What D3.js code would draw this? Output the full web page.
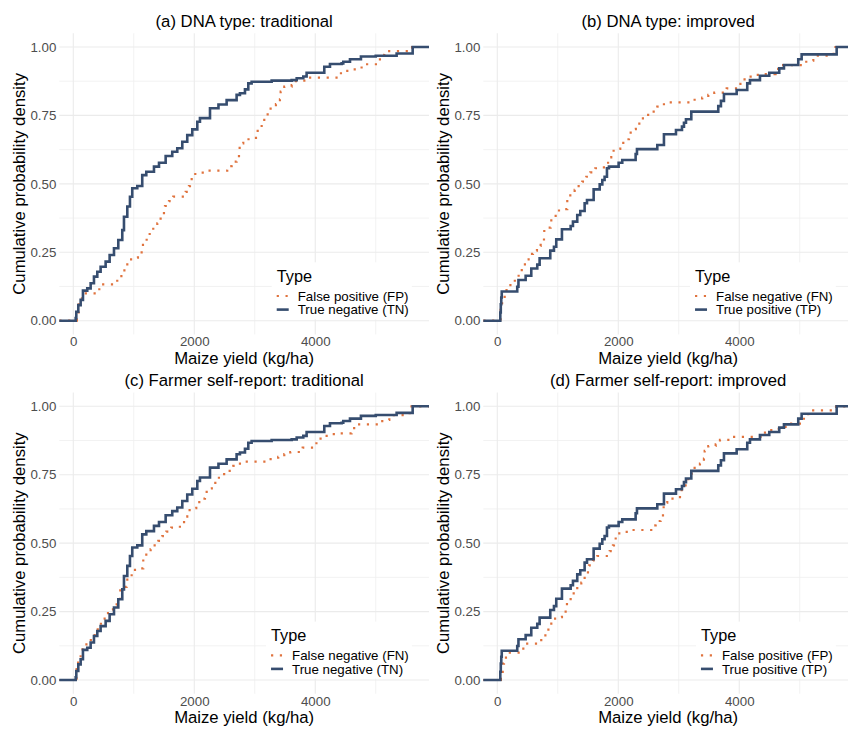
<!DOCTYPE html>
<html>
<head>
<meta charset="utf-8">
<script src="https://cdn.jsdelivr.net/npm/d3@7"></script>
<style>
  body { margin: 0; background: #fff; }
  svg text { font-family: "Liberation Sans", Arial, sans-serif; }
</style>
</head>
<body>
<svg width="848" height="729"></svg>
<script>
// step points of each ECDF (yield where the step happens, cumulative share after it)
var tnYield = [40, 50, 83, 122, 160, 231, 287, 342, 397, 452, 535, 601, 673, 744, 810, 838, 893, 937, 975, 1058,
  1140, 1207, 1334, 1417, 1527, 1636, 1719, 1802, 1884, 1967, 2050, 2094, 2260, 2400, 2535, 2700, 2755, 2838, 2893, 2948,
  3279, 3610, 3693, 3802, 3857, 4149, 4243, 4436, 4463, 4574, 4755, 5000, 5345, 5610];
var tnCum = [0.01, 0.033, 0.057, 0.076, 0.110, 0.118, 0.137, 0.161, 0.179, 0.197, 0.216, 0.240, 0.265, 0.295, 0.331, 0.380, 0.417, 0.453, 0.484, 0.492,
  0.532, 0.544, 0.563, 0.577, 0.602, 0.617, 0.630, 0.654, 0.678, 0.699, 0.727, 0.740, 0.776, 0.790, 0.806, 0.825, 0.831, 0.845, 0.867, 0.873,
  0.877, 0.879, 0.886, 0.892, 0.906, 0.928, 0.938, 0.940, 0.946, 0.955, 0.965, 0.968, 0.976, 1.0];

var tpYield = [50, 58, 66, 74, 330, 350, 469, 562, 661, 700, 876, 937, 975, 1069, 1213, 1251, 1322, 1372, 1444, 1483,
  1593, 1693, 1736, 1774, 1813, 1846, 2006, 2066, 2287, 2309, 2645, 2755, 2954, 3053, 3086, 3119, 3207, 3653, 3697, 3747,
  3957, 4132, 4177, 4342, 4496, 4661, 4739, 4975, 5031, 5610];
var tpCum = [0.03, 0.06, 0.085, 0.107, 0.124, 0.149, 0.164, 0.191, 0.205, 0.228, 0.256, 0.270, 0.297, 0.334, 0.346, 0.362, 0.386, 0.401, 0.429, 0.441,
  0.480, 0.498, 0.514, 0.526, 0.557, 0.563, 0.577, 0.587, 0.609, 0.627, 0.642, 0.681, 0.697, 0.709, 0.723, 0.736, 0.764, 0.784, 0.803, 0.828,
  0.843, 0.867, 0.879, 0.895, 0.906, 0.922, 0.934, 0.955, 0.973, 1.0];

var fpYield = [60, 90, 111, 177, 386, 452, 661, 727, 838, 845, 893, 1003, 1069, 1130, 1152, 1213, 1263, 1322, 1389, 1444,
  1499, 1516, 1582, 1653, 1858, 1912, 1929, 1995, 2106, 2205, 2545, 2618, 2700, 2739, 2750, 2810, 3020, 3048, 3114, 3157,
  3213, 3262, 3350, 3416, 3428, 3488, 3610, 3681, 3896, 4380, 4479, 4601, 4722, 4794, 5069, 5141, 5600];
var fpCum = [0.03, 0.06, 0.082, 0.100, 0.115, 0.133, 0.146, 0.163, 0.173, 0.201, 0.224, 0.230, 0.244, 0.262, 0.289, 0.307, 0.325, 0.343, 0.356, 0.378,
  0.401, 0.419, 0.437, 0.453, 0.471, 0.492, 0.517, 0.536, 0.541, 0.548, 0.565, 0.581, 0.597, 0.620, 0.648, 0.663, 0.678, 0.703, 0.719, 0.742,
  0.761, 0.782, 0.791, 0.809, 0.837, 0.855, 0.861, 0.877, 0.888, 0.904, 0.913, 0.918, 0.925, 0.937, 0.971, 0.985, 1.0];

var fnYield = [55, 80, 122, 193, 248, 353, 436, 457, 518, 590, 656, 717, 772, 777, 882, 893, 965, 1020, 1157, 1207,
  1279, 1345, 1405, 1471, 1537, 1620, 1736, 1802, 1858, 1884, 1983, 2033, 2116, 2177, 2205, 2290, 2370, 2450, 2535, 2645,
  2755, 3262, 3388, 3488, 3587, 3792, 4000, 4066, 4165, 4276, 4408, 4600, 4678, 5041, 5152, 5224, 5560];
var fnCum = [0.04, 0.08, 0.112, 0.130, 0.146, 0.185, 0.197, 0.224, 0.244, 0.256, 0.273, 0.289, 0.309, 0.340, 0.347, 0.374, 0.390, 0.408, 0.441, 0.462,
  0.478, 0.496, 0.508, 0.526, 0.542, 0.557, 0.560, 0.577, 0.597, 0.621, 0.628, 0.650, 0.663, 0.682, 0.700, 0.720, 0.739, 0.752, 0.764, 0.782,
  0.798, 0.812, 0.815, 0.825, 0.833, 0.849, 0.865, 0.882, 0.892, 0.898, 0.901, 0.920, 0.934, 0.946, 0.950, 0.968, 1.0];

var xTicks = [0, 2000, 4000];
var xMinor = [1000, 3000, 5000];
var yTicks = [0, 0.25, 0.5, 0.75, 1];
var yMinor = [0.125, 0.375, 0.625, 0.875];

var panelTitles = ["(a) DNA type: traditional", "(b) DNA type: improved",
  "(c) Farmer self-report: traditional", "(d) Farmer self-report: improved"];
var legendTitle = "Type";
var legendLabels = [
  ["False positive (FP)", "True negative (TN)"],
  ["False negative (FN)", "True positive (TP)"],
  ["False negative (FN)", "True negative (TN)"],
  ["False positive (FP)", "True positive (TP)"]
];
var panelSeries = [
  [[fpYield, fpCum], [tnYield, tnCum]],
  [[fnYield, fnCum], [tpYield, tpCum]],
  [[fnYield, fnCum], [tnYield, tnCum]],
  [[fpYield, fpCum], [tpYield, tpCum]]
];

var colOrange = "#E0733E",
    colBlue = "#364D6F";

var svg = d3.select("svg");

var panelW = 424, panelH = 359.3,
    margin = {left: 59.3, top: 33.3},
    width = 369.7, height = 301.1;

var xScale = d3.scaleLinear().domain([-231, 5880]).range([0, width]);
var yScale = d3.scaleLinear().domain([-0.05, 1.05]).range([height, 0]);

var stepLine = d3.line()
  .curve(d3.curveStepAfter)
  .x(function(d) { return xScale(d[0]); })
  .y(function(d) { return yScale(d[1]); });

function ecdfPoints(xs, ps) {
  var pts = [[xScale.domain()[0], 0]];
  for (var i = 0; i < xs.length; i++) {
    pts.push([xs[i], ps[i]]);
  }
  pts.push([xScale.domain()[1], ps[ps.length - 1]]);
  return pts;
}

function drawPanel(k) {
  var ox = (k % 2) * panelW,
      oy = Math.floor(k / 2) * panelH;

  var panel = svg.append("g")
    .attr("transform", "translate(" + ox + "," + oy + ")");

  panel.append("text")
    .attr("x", margin.left + width / 2)
    .attr("y", 27)
    .attr("text-anchor", "middle")
    .attr("font-size", "16.7px")
    .attr("fill", "#000")
    .text(panelTitles[k]);

  var plot = panel.append("g")
    .attr("transform", "translate(" + margin.left + "," + margin.top + ")");

  // grid
  plot.selectAll(".vminor").data(xMinor).enter().append("line")
    .attr("x1", function(d) { return xScale(d); }).attr("x2", function(d) { return xScale(d); })
    .attr("y1", 0).attr("y2", height)
    .attr("stroke", "#EFEFEF").attr("stroke-width", 0.8);
  plot.selectAll(".hminor").data(yMinor).enter().append("line")
    .attr("x1", 0).attr("x2", width)
    .attr("y1", function(d) { return yScale(d); }).attr("y2", function(d) { return yScale(d); })
    .attr("stroke", "#EFEFEF").attr("stroke-width", 0.8);
  plot.selectAll(".vmajor").data(xTicks).enter().append("line")
    .attr("x1", function(d) { return xScale(d); }).attr("x2", function(d) { return xScale(d); })
    .attr("y1", 0).attr("y2", height)
    .attr("stroke", "#EBEBEB").attr("stroke-width", 1.1);
  plot.selectAll(".hmajor").data(yTicks).enter().append("line")
    .attr("x1", 0).attr("x2", width)
    .attr("y1", function(d) { return yScale(d); }).attr("y2", function(d) { return yScale(d); })
    .attr("stroke", "#EBEBEB").attr("stroke-width", 1.1);

  // axes
  var gx = plot.append("g")
    .attr("transform", "translate(0," + height + ")")
    .call(d3.axisBottom(xScale).tickValues(xTicks).tickSize(0).tickPadding(2.5).tickFormat(d3.format("d")));
  var gy = plot.append("g")
    .call(d3.axisLeft(yScale).tickValues(yTicks).tickSize(0).tickPadding(3).tickFormat(d3.format(".2f")));
  [gx, gy].forEach(function(g) {
    g.select(".domain").remove();
    g.selectAll("text")
      .attr("font-family", "Liberation Sans, Arial, sans-serif")
      .attr("font-size", "13.3px")
      .attr("fill", "#4D4D4D");
  });

  panel.append("text")
    .attr("x", margin.left + width / 2)
    .attr("y", 364)
    .attr("text-anchor", "middle")
    .attr("font-size", "16.7px")
    .text("Maize yield (kg/ha)");

  panel.append("text")
    .attr("transform", "translate(24.7," + (margin.top + height / 2) + ") rotate(-90)")
    .attr("text-anchor", "middle")
    .attr("font-size", "16.7px")
    .text("Cumulative probability density");

  // curves
  var series = panelSeries[k];
  plot.append("path")
    .attr("d", stepLine(ecdfPoints(series[0][0], series[0][1])))
    .attr("fill", "none")
    .attr("stroke", colOrange)
    .attr("stroke-width", 2.2)
    .attr("stroke-dasharray", "2.2,6.6");
  plot.append("path")
    .attr("d", stepLine(ecdfPoints(series[1][0], series[1][1])))
    .attr("fill", "none")
    .attr("stroke", colBlue)
    .attr("stroke-width", 2.6);

  // legend, right aligned inside the plot
  var legend = plot.append("g");
  var bg = legend.append("rect").attr("fill", "#fff");
  var labels = legend.selectAll(".lab").data(legendLabels[k]).enter().append("text")
    .attr("font-size", "13.3px")
    .attr("fill", "#000")
    .text(function(d) { return d; });
  var maxW = 0;
  labels.each(function() { maxW = Math.max(maxW, this.getComputedTextLength()); });
  var right = 349.5,
      labX = right - maxW,
      keyX = labX - 21;
  labels.attr("x", labX).attr("y", function(d, i) { return 267.4 + i * 13.6; });
  legend.append("text")
    .attr("x", keyX)
    .attr("y", 248.4)
    .attr("font-size", "16.3px")
    .text(legendTitle);
  legend.append("line")
    .attr("x1", keyX).attr("x2", keyX + 12)
    .attr("y1", 262.7).attr("y2", 262.7)
    .attr("stroke", colOrange).attr("stroke-width", 2.2).attr("stroke-dasharray", "2.2,6.6");
  legend.append("line")
    .attr("x1", keyX).attr("x2", keyX + 12)
    .attr("y1", 276.3).attr("y2", 276.3)
    .attr("stroke", colBlue).attr("stroke-width", 2.6);
  bg.attr("x", keyX - 5).attr("y", 229)
    .attr("width", right - keyX + 8).attr("height", 57);
}

for (var k = 0; k < 4; k++) {
  drawPanel(k);
}
</script>
</body>
</html>
